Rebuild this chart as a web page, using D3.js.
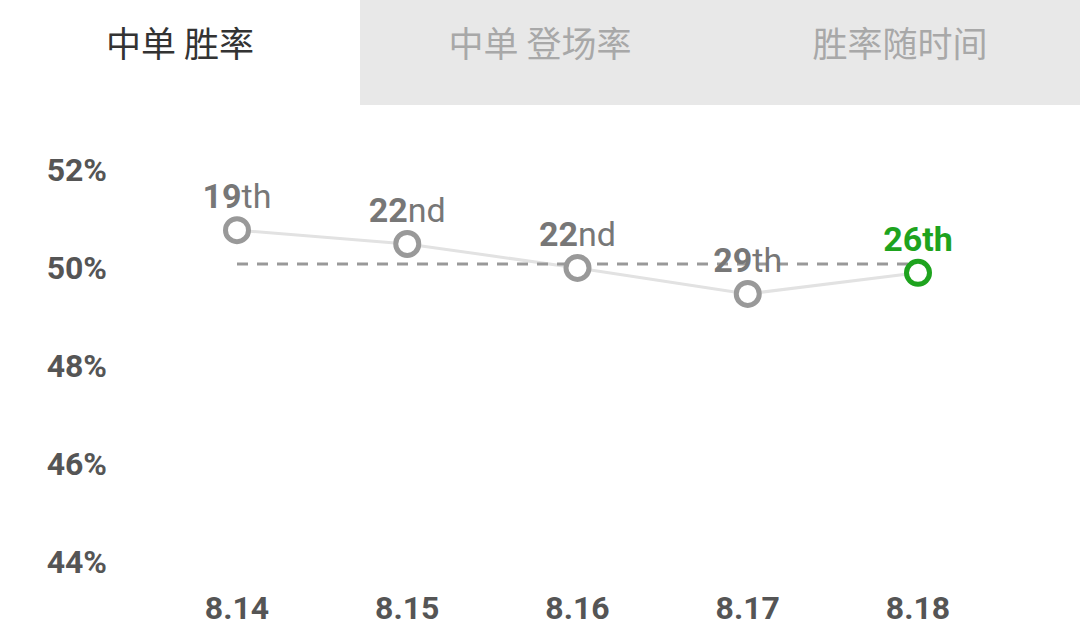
<!DOCTYPE html>
<html>
<head>
<meta charset="utf-8">
<script src="https://cdn.jsdelivr.net/npm/d3@7"></script>
<style>
  body { margin: 0; background: #fff; }
  svg { display: block; }
</style>
</head>
<body>
<svg></svg>
<script>
const tabs = ["中单 胜率", "中单 登场率", "胜率随时间"];
const patches = ["8.14", "8.15", "8.16", "8.17", "8.18"];
const winRates = [50.69, 50.41, 49.92, 49.39, 49.82];
const rankNums = ["19", "22", "22", "29", "26"];
const rankSuffix = ["th", "nd", "nd", "th", "th"];
const yTicks = [44, 46, 48, 50, 52];
const average = 50;

const W = 1080, H = 640;
const svg = d3.select("svg")
    .attr("width", W)
    .attr("height", H);

const numFont = "Roboto, 'Noto Sans', sans-serif";
const cjkFont = "'Noto Sans CJK SC', sans-serif";

// tab bar
const tabW = W / tabs.length;
svg.append("rect")
    .attr("x", tabW).attr("y", 0)
    .attr("width", W - tabW).attr("height", 105)
    .attr("fill", "#e8e8e8");

svg.selectAll("text.tab")
    .data(tabs)
    .enter().append("text")
    .attr("class", "tab")
    .attr("x", (d, i) => tabW * i + tabW / 2)
    .attr("y", 57)
    .attr("text-anchor", "middle")
    .attr("font-family", cjkFont)
    .attr("font-size", 35)
    .attr("fill", (d, i) => i === 0 ? "#333" : "#a8a8a8")
    .text(d => d);

// scales
const x = d3.scalePoint()
    .domain(patches)
    .range([237, 918]);

const y = d3.scaleLinear()
    .domain([44, 52])
    .range([558, 166]);

// y labels
svg.selectAll("text.ytick")
    .data(yTicks)
    .enter().append("text")
    .attr("class", "ytick")
    .attr("x", 107)
    .attr("y", d => y(d) + 15)
    .attr("text-anchor", "end")
    .attr("font-family", numFont)
    .attr("font-weight", "bold")
    .attr("font-size", 32)
    .attr("fill", "#555")
    .text(d => d + "%");

// x labels
svg.selectAll("text.xtick")
    .data(patches)
    .enter().append("text")
    .attr("class", "xtick")
    .attr("x", d => x(d))
    .attr("y", 619)
    .attr("text-anchor", "middle")
    .attr("font-family", numFont)
    .attr("font-weight", "bold")
    .attr("font-size", 32)
    .attr("fill", "#555")
    .text(d => d);

// win rate line
const line = d3.line()
    .x((d, i) => x(patches[i]))
    .y(d => y(d));

svg.append("path")
    .datum(winRates)
    .attr("d", line)
    .attr("fill", "none")
    .attr("stroke", "#e2e2e2")
    .attr("stroke-width", 3);

// 50% average line
svg.append("line")
    .attr("x1", x(patches[0]))
    .attr("x2", x(patches[patches.length - 1]))
    .attr("y1", y(average))
    .attr("y2", y(average))
    .attr("stroke", "#999")
    .attr("stroke-width", 3)
    .attr("stroke-dasharray", "11 9");

const last = winRates.length - 1;
const colorOf = i => i === last ? "#1ea31e" : "#999";

// points
svg.selectAll("circle.pt")
    .data(winRates)
    .enter().append("circle")
    .attr("class", "pt")
    .attr("cx", (d, i) => x(patches[i]))
    .attr("cy", d => y(d))
    .attr("r", 11.5)
    .attr("fill", "#fff")
    .attr("stroke", (d, i) => colorOf(i))
    .attr("stroke-width", 5);

// rank labels
const labels = svg.selectAll("text.rank")
    .data(winRates)
    .enter().append("text")
    .attr("class", "rank")
    .attr("x", (d, i) => x(patches[i]))
    .attr("y", d => y(d) - 22)
    .attr("text-anchor", "middle")
    .attr("font-family", numFont)
    .attr("font-size", 34)
    .attr("fill", (d, i) => i === last ? "#1ea31e" : "#777");

labels.append("tspan")
    .attr("font-weight", "bold")
    .text((d, i) => rankNums[i]);

labels.append("tspan")
    .attr("font-weight", (d, i) => i === last ? "bold" : "normal")
    .text((d, i) => rankSuffix[i]);
</script>
</body>
</html>
